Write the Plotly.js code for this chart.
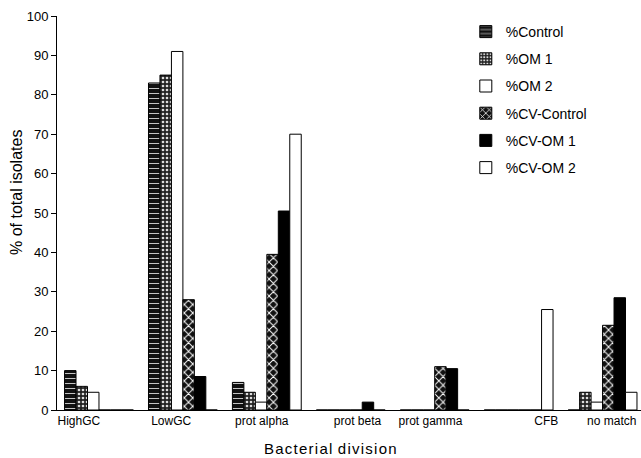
<!DOCTYPE html>
<html>
<head>
<meta charset="utf-8">
<script src="https://cdn.plot.ly/plotly-3.0.1.min.js"></script>
<style>html,body{margin:0;padding:0;background:#fff;}#chart{width:641px;height:458px;}</style>
</head>
<body>
<div id="chart"></div>
<script>
const categories = ["HighGC", "LowGC", "prot alpha", "prot beta", "prot gamma", "CFB", "no match"];
const seriesNames = ["%Control", "%OM 1", "%OM 2", "%CV-Control", "%CV-OM 1", "%CV-OM 2"];
const control   = [10, 83, 7, 0, 0, 0, 0];
const om1       = [6, 85, 4.5, 0, 0, 0, 4.5];
const om2       = [4.5, 91, 2, 0, 0, 0, 2];
const cvControl = [0, 28, 39.5, 0, 11, 0, 21.5];
const cvOm1     = [0, 8.5, 50.5, 2, 10.5, 0, 28.5];
const cvOm2     = [0, 0, 70, 0, 0, 25.5, 4.5];
const yTickVals = [0, 10, 20, 30, 40, 50, 60, 70, 80, 90, 100];

const seriesValues = [control, om1, om2, cvControl, cvOm1, cvOm2];
const styles = [
  {color: "#111", pattern: {shape: "-", fgcolor: "#fff", bgcolor: "#111", size: 5, solidity: 0.15}},
  {color: "#222", pattern: {shape: ".", fgcolor: "#ddd", bgcolor: "#222", size: 4, solidity: 0.35}},
  {color: "#fff"},
  {color: "#111", pattern: {shape: "x", fgcolor: "#fff", bgcolor: "#111", size: 6, solidity: 0.3}},
  {color: "#000"},
  {color: "#fff"}
];
const idx = categories.map((c, i) => i);
const labelShift = [-0.24, -0.14, -0.06, 0.08, -0.05, 0.33, 0.11];

const traces = seriesValues.map((vals, k) => ({
  type: "bar",
  name: seriesNames[k],
  x: idx,
  y: vals,
  legendgroup: "g" + k,
  marker: Object.assign({line: {color: "#000", width: 1}}, styles[k]),
  hoverinfo: "x+y+name"
}));

const layout = {
  width: 641, height: 458,
  margin: {l: 57, r: 0, t: 16, b: 48},
  paper_bgcolor: "#fff", plot_bgcolor: "#fff",
  font: {family: "Liberation Sans, Arial, sans-serif", color: "#000", size: 12},
  barmode: "group",
  bargap: 0.18,
  bargroupgap: 0,
  showlegend: true,
  legend: {x: 0.70, y: 1.0, xanchor: "left", yanchor: "top", font: {size: 14}, tracegroupgap: 6, bgcolor: "rgba(0,0,0,0)"},
  xaxis: {
    range: [-0.5, 6.458],
    tickvals: idx.map(i => i + labelShift[i]),
    ticktext: categories,
    ticks: "", showgrid: false, zeroline: false,
    showline: true, linecolor: "#000", linewidth: 1,
    tickfont: {size: 12}
  },
  yaxis: {
    range: [0, 100],
    tickvals: yTickVals,
    ticks: "outside", ticklen: 5, tickcolor: "#000",
    showgrid: false, zeroline: false,
    showline: true, linecolor: "#000", linewidth: 1,
    tickfont: {size: 13}
  },
  annotations: [{
    text: "B a c t e r i a l&nbsp; d i v i s i o n".replace(/ /g, "\u200A"),
    xref: "paper", yref: "paper", x: (330 - 57) / 584, y: 0, yshift: -38,
    xanchor: "center", yanchor: "middle", showarrow: false,
    font: {size: 15}
  }, {
    text: "% of total isolates",
    xref: "paper", yref: "paper", x: 0, xshift: -40, y: (410 - 193) / 394,
    xanchor: "center", yanchor: "middle", textangle: -90, showarrow: false,
    font: {size: 16}
  }]
};

Plotly.newPlot("chart", traces, layout, {displayModeBar: false, staticPlot: true});
</script>
</body>
</html>
